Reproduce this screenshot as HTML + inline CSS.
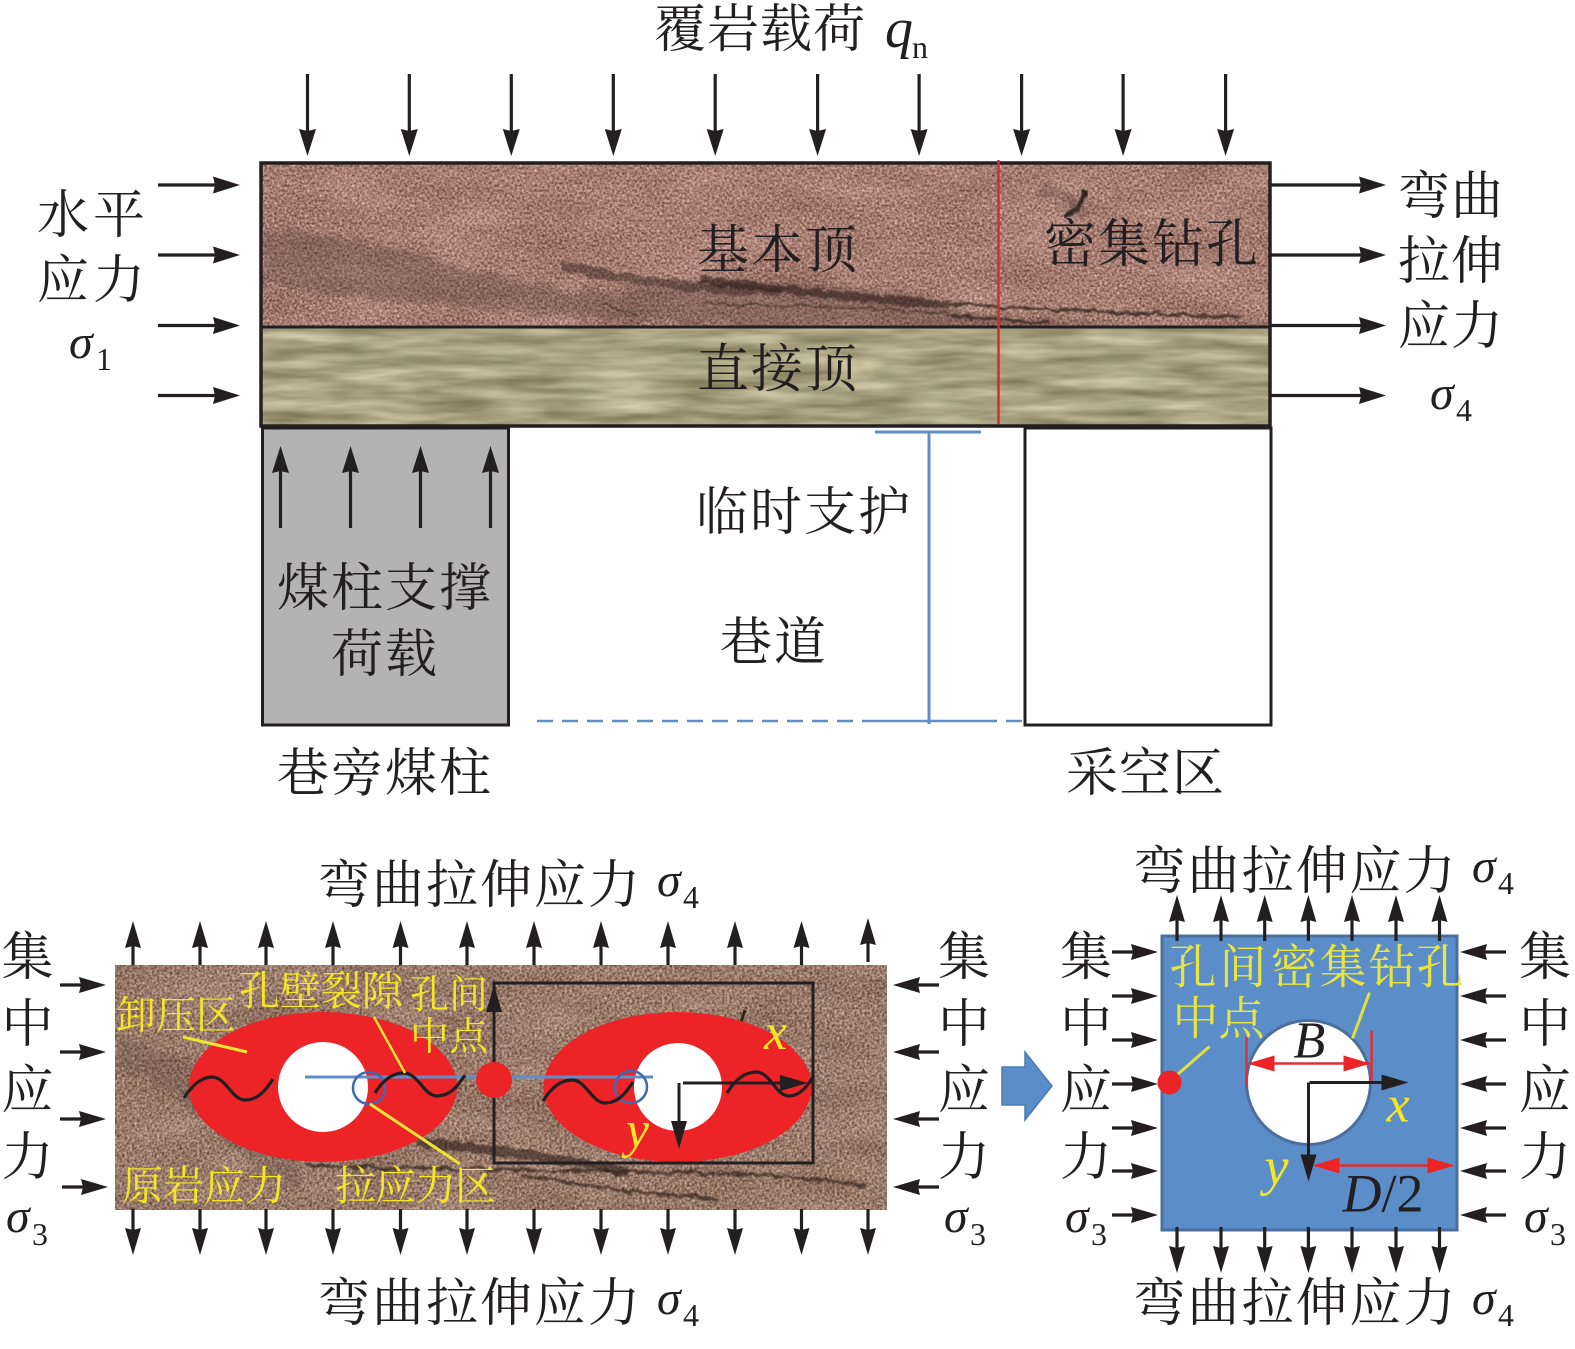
<!DOCTYPE html>
<html><head><meta charset="utf-8">
<style>
html,body{margin:0;padding:0;background:#fff;width:1575px;height:1349px;overflow:hidden}
svg{display:block}
.c{font-family:"Liberation Serif","Noto Serif CJK SC",serif;font-size:52px;fill:#231f20}
.y{fill:#f5e625}
.i{font-family:"Liberation Serif",serif;font-style:italic;font-size:50px;fill:#231f20}
.g{font-family:"Liberation Serif",serif;font-style:italic;font-size:48px;fill:#231f20}
.s{font-family:"Liberation Serif",serif;font-size:32px;fill:#231f20}
</style></head><body>
<svg xmlns="http://www.w3.org/2000/svg" width="1575" height="1349" viewBox="0 0 1575 1349">
<defs>
<filter id="rock" x="0" y="0" width="100%" height="100%" color-interpolation-filters="sRGB">
<feTurbulence type="fractalNoise" baseFrequency="0.4" numOctaves="2" seed="7" result="f"/>
<feTurbulence type="fractalNoise" baseFrequency="0.012 0.035" numOctaves="3" seed="3" result="l"/>
<feComposite in="f" in2="l" operator="arithmetic" k1="0" k2="0.82" k3="0.18" k4="0" result="m"/>
<feColorMatrix in="m" type="matrix" values="0.8 0 0 0 0.25  0.8 0 0 0 0.09  0.8 0 0 0 0.05  0 0 0 0 1"/>
</filter>
<filter id="rock2" x="0" y="0" width="100%" height="100%" color-interpolation-filters="sRGB">
<feTurbulence type="fractalNoise" baseFrequency="0.4" numOctaves="2" seed="9" result="f"/>
<feTurbulence type="fractalNoise" baseFrequency="0.012 0.035" numOctaves="3" seed="5" result="l"/>
<feComposite in="f" in2="l" operator="arithmetic" k1="0" k2="0.82" k3="0.18" k4="0" result="m"/>
<feColorMatrix in="m" type="matrix" values="0.8 0 0 0 0.2  0.8 0 0 0 0.08  0.8 0 0 0 0.02  0 0 0 0 1"/>
</filter>
<filter id="roof" x="0" y="0" width="100%" height="100%" color-interpolation-filters="sRGB">
<feTurbulence type="fractalNoise" baseFrequency="0.012 0.09" numOctaves="3" seed="11" result="n"/>
<feColorMatrix in="n" type="matrix" values="0.45 0 0 0 0.435  0.45 0 0 0 0.405  0.45 0 0 0 0.275  0 0 0 0 1"/>
</filter>
<filter id="b3" x="-10%" y="-50%" width="120%" height="200%" color-interpolation-filters="sRGB">
<feTurbulence type="fractalNoise" baseFrequency="0.06" numOctaves="3" seed="4" result="n"/>
<feDisplacementMap in="SourceGraphic" in2="n" scale="22" xChannelSelector="R" yChannelSelector="G"/>
<feGaussianBlur stdDeviation="3"/>
</filter>
<filter id="b1" x="-10%" y="-100%" width="120%" height="300%" color-interpolation-filters="sRGB">
<feTurbulence type="fractalNoise" baseFrequency="0.08" numOctaves="3" seed="8" result="n"/>
<feDisplacementMap in="SourceGraphic" in2="n" scale="9" xChannelSelector="R" yChannelSelector="G"/>
<feGaussianBlur stdDeviation="0.700"/>
</filter>
<clipPath id="cr1"><rect x="261" y="163" width="1009" height="164"/></clipPath>
<clipPath id="cr2"><rect x="115" y="965" width="772" height="245"/></clipPath>
<g id="A82"><path d="M-82 0H-20" stroke="#231f20" stroke-width="3.200"/><path d="M0 0L-27-8.500-25 0-27 8.500Z" fill="#231f20"/></g>
<g id="A116"><path d="M-116 0H-20" stroke="#231f20" stroke-width="3.200"/><path d="M0 0L-27-8.500-25 0-27 8.500Z" fill="#231f20"/></g>
<g id="A46"><path d="M-46 0H-20" stroke="#231f20" stroke-width="3.200"/><path d="M0 0L-27-8-25 0-27 8Z" fill="#231f20"/></g>
<g id="A44"><path d="M-44 0H-20" stroke="#231f20" stroke-width="3.200"/><path d="M0 0L-27-8-25 0-27 8Z" fill="#231f20"/></g>
<path id="R" d="M0 0L-27-8-27 8Z" fill="#ec2427"/>
</defs>

<!-- top rock -->
<rect x="261" y="163" width="1009" height="164" fill="#9c7c74" filter="url(#rock)"/>
<g clip-path="url(#cr1)" fill="none">
<path d="M263 226Q380 240 470 270T680 285T950 305T1270 322V330H800Q600 325 263 285Z" fill="#4a3832" opacity=".3" filter="url(#b3)"/>
<path d="M560 265Q640 285 780 292" stroke="#2e1f19" stroke-width="9" opacity=".45" filter="url(#b1)"/>
<path d="M700 280Q820 295 950 305" stroke="#2e1f19" stroke-width="8" opacity=".6" filter="url(#b1)"/>
<path d="M950 304Q1060 310 1240 318" stroke="#2e211b" stroke-width="3" opacity=".75" filter="url(#b1)"/>
<path d="M950 315Q1000 320 1050 323" stroke="#2e211b" stroke-width="3" opacity=".75" filter="url(#b1)"/>
<path d="M600 303L640 316M700 304Q850 305 960 315" stroke="#3a2a22" stroke-width="2" opacity=".6" filter="url(#b1)"/>
<path d="M1086 192Q1080 208 1066 218" stroke="#2e211b" stroke-width="4" filter="url(#b1)"/>
<path d="M1040 190Q1060 185 1085 215" stroke="#5a443c" stroke-width="8" opacity=".4" filter="url(#b3)"/>
</g>
<!-- immediate roof -->
<rect x="261" y="327" width="1009" height="99" fill="#a9a283" filter="url(#roof)"/>
<path d="M830 368Q870 352 885 362L875 378Z" fill="#d8cfa8" opacity=".8" filter="url(#b3)"/>
<rect x="261" y="163" width="1009" height="263" fill="none" stroke="#231f20" stroke-width="3.500"/>
<path d="M261 327H1270" stroke="#231f20" stroke-width="3"/>
<path d="M998.500 160V424" stroke="#d92b2f" stroke-width="2.500"/>

<!-- pillars -->
<rect x="262.500" y="428" width="246" height="297" fill="#b3b3b3" stroke="#231f20" stroke-width="3"/>
<rect x="1025" y="428" width="246" height="297" fill="#fff" stroke="#231f20" stroke-width="3"/>
<path d="M875 432H981M929 432V724" stroke="#5f8fc7" stroke-width="3" fill="none"/>
<path d="M537 721H872" stroke="#5f8fc7" stroke-width="2.500" stroke-dasharray="16 9"/>
<path d="M872 721H981" stroke="#5f8fc7" stroke-width="2.500"/>
<path d="M981 721H1025" stroke="#5f8fc7" stroke-width="2.500" stroke-dasharray="16 9"/>

<!-- top arrows -->
<use href="#A82" transform="translate(307.500,156) rotate(90)"/><use href="#A82" transform="translate(409.300,156) rotate(90)"/><use href="#A82" transform="translate(511.300,156) rotate(90)"/><use href="#A82" transform="translate(613.300,156) rotate(90)"/><use href="#A82" transform="translate(715.200,156) rotate(90)"/><use href="#A82" transform="translate(817.600,156) rotate(90)"/><use href="#A82" transform="translate(919.100,156) rotate(90)"/><use href="#A82" transform="translate(1021.600,156) rotate(90)"/><use href="#A82" transform="translate(1123.100,156) rotate(90)"/><use href="#A82" transform="translate(1225.600,156) rotate(90)"/>
<!-- side arrows -->
<use href="#A82" x="240" y="185"/><use href="#A82" x="240" y="255"/><use href="#A82" x="240" y="325.500"/><use href="#A82" x="240" y="395.500"/>
<use href="#A116" x="1386" y="185"/><use href="#A116" x="1386" y="255"/><use href="#A116" x="1386" y="325.500"/><use href="#A116" x="1386" y="395.500"/>
<!-- pillar arrows -->
<use href="#A82" transform="translate(280.500,446) rotate(-90)"/><use href="#A82" transform="translate(350.500,446) rotate(-90)"/><use href="#A82" transform="translate(420.500,446) rotate(-90)"/><use href="#A82" transform="translate(490.500,446) rotate(-90)"/>

<!-- top text -->
<text class="c" x="654 707 760 813" y="47">覆岩载荷</text>
<text class="i" x="885" y="47" style="font-size:56px">q</text><text class="s" x="912" y="58">n</text>
<text class="c" x="37 93" y="233">水平</text>
<text class="c" x="37 93" y="298">应力</text>
<text class="g" x="69" y="358">σ</text><text class="s" x="96" y="370">1</text>
<text class="c" x="697 751 805" y="268">基本顶</text>
<text class="c" x="1044 1098 1152 1206" y="262">密集钻孔</text>
<text class="c" x="697 751 805" y="387">直接顶</text>
<text class="c" x="1398 1451" y="214">弯曲</text>
<text class="c" x="1398 1451" y="279">拉伸</text>
<text class="c" x="1398 1451" y="344">应力</text>
<text class="g" x="1430" y="409">σ</text><text class="s" x="1456" y="421">4</text>
<text class="c" x="696 750 804 858" y="530">临时支护</text>
<text class="c" x="720 774" y="660">巷道</text>
<text class="c" x="277 331 385 439" y="606">煤柱支撑</text>
<text class="c" x="331 385" y="672">荷载</text>
<text class="c" x="277 331 385 439" y="791">巷旁煤柱</text>
<text class="c" x="1066 1119 1172" y="791">采空区</text>

<!-- bottom-left panel -->
<rect x="115" y="965" width="772" height="245" fill="#94796c" filter="url(#rock2)"/>
<g clip-path="url(#cr2)" fill="none">
<path d="M115 1050Q180 1070 230 1120T300 1170" stroke="#4a3832" stroke-width="34" opacity=".25" filter="url(#b3)"/>
<path d="M416 1143Q520 1150 630 1172" stroke="#2e1f19" stroke-width="10" opacity=".6" filter="url(#b1)"/>
<path d="M304 1165Q450 1170 640 1172T865 1187" stroke="#2e211b" stroke-width="3" opacity=".7" filter="url(#b1)"/>
<path d="M520 1175Q600 1190 720 1200" stroke="#2e211b" stroke-width="3" opacity=".7" filter="url(#b1)"/>
<path d="M745 1010L740 1025" stroke="#2e211b" stroke-width="3"/>
</g>
<ellipse cx="323" cy="1087" rx="134" ry="75" fill="#ec2427"/>
<circle cx="323" cy="1087" r="45" fill="#fff"/>
<ellipse cx="677.500" cy="1087" rx="134" ry="75" fill="#ec2427"/>
<circle cx="678" cy="1087" r="44" fill="#fff"/>
<rect x="494" y="983" width="319" height="180" fill="none" stroke="#231f20" stroke-width="3"/>
<path d="M305 1077H653" stroke="#5f8fc7" stroke-width="3"/>
<circle cx="494" cy="1080" r="18" fill="#ec2427"/>
<circle cx="369" cy="1088" r="16" fill="none" stroke="#4468b0" stroke-width="2.500"/>
<circle cx="631" cy="1087" r="16" fill="none" stroke="#4468b0" stroke-width="2.500"/>
<g fill="none" stroke="#231f20" stroke-width="3.200">
<path d="M184 1098C192 1085 202 1077 212 1077C226 1077 232 1100 245 1100C258 1100 266 1090 273 1079"/>
<path d="M375 1093C383 1080 393 1073 404 1073C418 1073 424 1096 437 1096C450 1096 458 1086 465 1075"/>
<path d="M543 1101C551 1088 561 1080 572 1080C586 1080 592 1103 605 1103C618 1103 626 1093 633 1082"/>
<path d="M727 1093C735 1080 745 1072 756 1072C770 1072 776 1096 789 1096C800 1096 808 1086 814 1075"/>
</g>
<path d="M683 1083H785M679 1083V1125" stroke="#231f20" stroke-width="3" fill="none"/>
<path d="M808 1083L780 1075 780 1091Z M679 1149L671 1121 687 1121Z M494 985L486 1012 502 1012Z" fill="#231f20"/>
<g stroke="#efe431" stroke-width="3" fill="none">
<path d="M183 1037L247 1052"/><path d="M374 1017L405 1073" stroke-width="2.500"/><path d="M370 1104L460 1164"/>
</g>
<text class="c y" x="116 156 196" y="1029" style="font-size:40px">卸压区</text>
<text class="c y" x="239 280 321 362" y="1005" style="font-size:41px">孔壁裂隙</text>
<text class="c y" x="410 449" y="1008" style="font-size:39px">孔间</text>
<text class="c y" x="410 449" y="1050" style="font-size:39px">中点</text>
<text class="c y" x="122 163 204 245" y="1200" style="font-size:41px">原岩应力</text>
<text class="c y" x="335 375 415 455" y="1200" style="font-size:41px">拉应力区</text>
<text class="i" x="764" y="1049" style="fill:#f5e625;font-size:52px">x</text>
<text class="i" x="626" y="1147" style="fill:#f5e625;font-size:52px">y</text>
<!-- bottom-left arrows -->
<use href="#A44" transform="translate(133,921) rotate(-90)"/><use href="#A44" transform="translate(200,921) rotate(-90)"/><use href="#A44" transform="translate(266,921) rotate(-90)"/><use href="#A44" transform="translate(333,921) rotate(-90)"/><use href="#A44" transform="translate(400.500,921) rotate(-90)"/><use href="#A44" transform="translate(467,921) rotate(-90)"/><use href="#A44" transform="translate(534,921) rotate(-90)"/><use href="#A44" transform="translate(601,921) rotate(-90)"/><use href="#A44" transform="translate(668,921) rotate(-90)"/><use href="#A44" transform="translate(735,921) rotate(-90)"/><use href="#A44" transform="translate(801.500,921) rotate(-90)"/><use href="#A44" transform="translate(868,918) rotate(-90)"/>
<use href="#A46" transform="translate(133,1255) rotate(90)"/><use href="#A46" transform="translate(200,1255) rotate(90)"/><use href="#A46" transform="translate(266,1255) rotate(90)"/><use href="#A46" transform="translate(333,1255) rotate(90)"/><use href="#A46" transform="translate(400.500,1255) rotate(90)"/><use href="#A46" transform="translate(467,1255) rotate(90)"/><use href="#A46" transform="translate(534,1255) rotate(90)"/><use href="#A46" transform="translate(601,1255) rotate(90)"/><use href="#A46" transform="translate(668,1255) rotate(90)"/><use href="#A46" transform="translate(735,1255) rotate(90)"/><use href="#A46" transform="translate(801.500,1255) rotate(90)"/><use href="#A46" transform="translate(868,1255) rotate(90)"/>
<use href="#A46" x="106" y="985"/><use href="#A46" x="106" y="1052"/><use href="#A46" x="106" y="1119"/><use href="#A46" x="108" y="1187"/>
<use href="#A46" transform="translate(893,985) rotate(180)"/><use href="#A46" transform="translate(893,1052) rotate(180)"/><use href="#A46" transform="translate(893,1119) rotate(180)"/><use href="#A46" transform="translate(893,1187) rotate(180)"/>
<!-- labels -->
<text class="c" x="318 372 426 480 534 588" y="903">弯曲拉伸应力</text>
<text class="g" x="657" y="896">σ</text><text class="s" x="683" y="908">4</text>
<text class="c" x="318 372 426 480 534 588" y="1321">弯曲拉伸应力</text>
<text class="g" x="657" y="1314">σ</text><text class="s" x="683" y="1326">4</text>
<text class="c" x="1.500" y="975">集</text><text class="c" x="1.500" y="1042">中</text><text class="c" x="1.500" y="1108">应</text><text class="c" x="1.500" y="1175">力</text>
<text class="g" x="6" y="1232">σ</text><text class="s" x="32" y="1245">3</text>
<text class="c" x="938" y="975">集</text><text class="c" x="938" y="1042">中</text><text class="c" x="938" y="1108">应</text><text class="c" x="938" y="1175">力</text>
<text class="g" x="944" y="1232">σ</text><text class="s" x="970" y="1245">3</text>

<!-- block arrow -->
<path d="M1002 1067H1025V1052L1052 1086 1025 1120V1105H1002Z" fill="#5b8ec9" stroke="#4a7bb5" stroke-width="1.500"/>

<!-- right panel -->
<g transform="translate(-2.500,-0.500)">
<rect x="1164.500" y="936.500" width="295" height="294" fill="#5b8ec9" stroke="#4a6f9f" stroke-width="3"/>
<circle cx="1311" cy="1083" r="62" fill="#fff" stroke="#4a6f9f" stroke-width="3"/>
<path d="M1180 1075L1212 1047M1355 1039L1372 993" stroke="#e3e03a" stroke-width="3"/>
<circle cx="1172" cy="1083" r="12" fill="#ec2427"/>
<path d="M1249 1037V1087M1374 1031V1083M1252 1064H1372M1318 1166H1455" stroke="#dc2f38" stroke-width="2.500" fill="none"/>
<use href="#R" transform="translate(1250,1064) rotate(180)"/><use href="#R" x="1373" y="1064"/>
<use href="#R" transform="translate(1315,1166) rotate(180)"/><use href="#R" x="1457" y="1166"/>
<path d="M1312 1083H1385M1311 1083V1158" stroke="#231f20" stroke-width="3" fill="none"/>
<path d="M1411 1083L1384 1075 1384 1091Z M1311 1182L1303 1155 1319 1155Z" fill="#231f20"/>
<text class="i" x="1296" y="1058" style="font-size:52px">B</text>
<text class="i" x="1389" y="1122" style="fill:#f5e625;font-size:52px">x</text>
<text class="i" x="1267" y="1185" style="fill:#f5e625;font-size:54px">y</text>
<text class="i" x="1345" y="1212" style="font-size:54px">D</text><text class="i" x="1384" y="1212" style="font-size:54px;font-style:normal">/2</text>
<text class="c y" x="1172 1222 1273 1322 1371 1419" y="984" style="font-size:47px;fill:#e9e53c">孔间密集钻孔</text>
<text class="c y" x="1175 1221" y="1035" style="font-size:46px;fill:#e9e53c">中点</text>
</g>
<use href="#A46" transform="translate(1177,895) rotate(-90)"/><use href="#A46" transform="translate(1221,895) rotate(-90)"/><use href="#A46" transform="translate(1264.700,895) rotate(-90)"/><use href="#A46" transform="translate(1308.400,895) rotate(-90)"/><use href="#A46" transform="translate(1352,895) rotate(-90)"/><use href="#A46" transform="translate(1396,895) rotate(-90)"/><use href="#A46" transform="translate(1439.500,895) rotate(-90)"/>
<use href="#A46" transform="translate(1177,1273) rotate(90)"/><use href="#A46" transform="translate(1221,1273) rotate(90)"/><use href="#A46" transform="translate(1264.700,1273) rotate(90)"/><use href="#A46" transform="translate(1308.400,1273) rotate(90)"/><use href="#A46" transform="translate(1352,1273) rotate(90)"/><use href="#A46" transform="translate(1396,1273) rotate(90)"/><use href="#A46" transform="translate(1439.500,1273) rotate(90)"/>
<use href="#A46" x="1158" y="952"/><use href="#A46" x="1158" y="996"/><use href="#A46" x="1158" y="1040"/><use href="#A46" x="1158" y="1084"/><use href="#A46" x="1158" y="1128"/><use href="#A46" x="1158" y="1171"/><use href="#A46" x="1158" y="1215"/>
<use href="#A46" transform="translate(1460,952) rotate(180)"/><use href="#A46" transform="translate(1460,996) rotate(180)"/><use href="#A46" transform="translate(1460,1040) rotate(180)"/><use href="#A46" transform="translate(1460,1084) rotate(180)"/><use href="#A46" transform="translate(1460,1128) rotate(180)"/><use href="#A46" transform="translate(1460,1171) rotate(180)"/><use href="#A46" transform="translate(1460,1215) rotate(180)"/>
<text class="c" x="1133.500 1187.500 1241.500 1295.500 1349.500 1403.500" y="889">弯曲拉伸应力</text>
<text class="g" x="1472" y="882">σ</text><text class="s" x="1498" y="894">4</text>
<text class="c" x="1133.500 1187.500 1241.500 1295.500 1349.500 1403.500" y="1321">弯曲拉伸应力</text>
<text class="g" x="1472" y="1314">σ</text><text class="s" x="1498" y="1326">4</text>
<text class="c" x="1060" y="975">集</text><text class="c" x="1060" y="1042">中</text><text class="c" x="1060" y="1108">应</text><text class="c" x="1060" y="1175">力</text>
<text class="g" x="1065" y="1232">σ</text><text class="s" x="1091" y="1245">3</text>
<text class="c" x="1519" y="975">集</text><text class="c" x="1519" y="1042">中</text><text class="c" x="1519" y="1108">应</text><text class="c" x="1519" y="1175">力</text>
<text class="g" x="1524" y="1232">σ</text><text class="s" x="1550" y="1245">3</text>
</svg>
</body></html>
